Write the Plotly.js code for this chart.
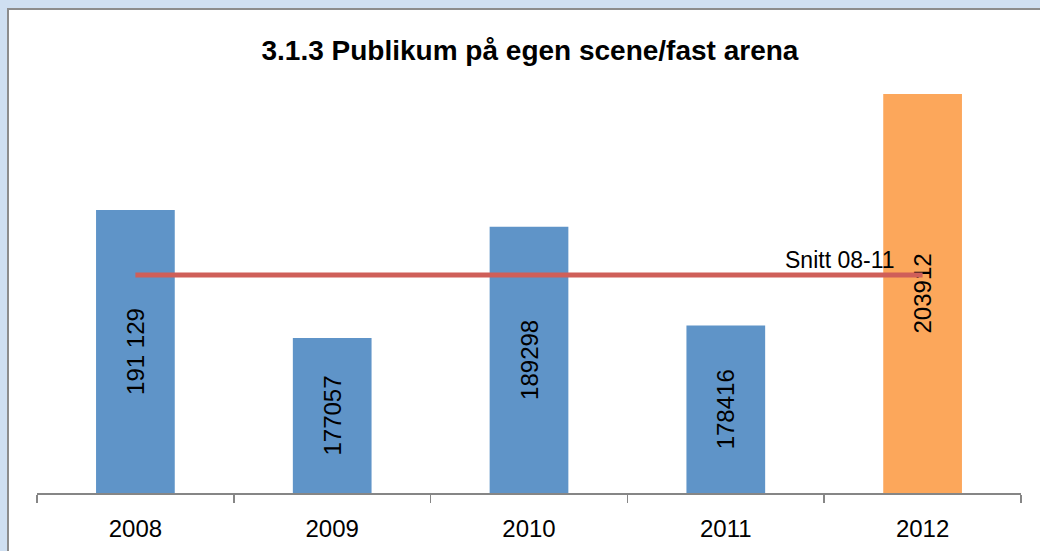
<!DOCTYPE html>
<html>
<head>
<meta charset="utf-8">
<script src="https://cdn.plot.ly/plotly-3.0.1.min.js"></script>
<style>
  html, body { margin:0; padding:0; width:1040px; height:551px; overflow:hidden; background:#cfdff1; }
  #frame { position:absolute; left:7px; top:8px; width:1100px; height:600px; background:#ffffff;
           border-left:2px solid #8c8c8c; border-top:2px solid #8c8c8c; }
  #chart { position:absolute; left:0; top:0; width:1040px; height:551px; }
</style>
</head>
<body>
<div id="frame"></div>
<div id="chart"></div>
<script>
const years = ['2008', '2009', '2010', '2011', '2012'];
const publikum = [191129, 177057, 189298, 178416, 203912];
const barLabels = ['191 129', '177057', '189298', '178416', '203912'];
const barColors = ['#5f94c8', '#5f94c8', '#5f94c8', '#5f94c8', '#fca75b'];
const snitt = [183975, 183975, 183975, 183975, 183975];
const snittLabel = 'Snitt 08-11';
const titleText = '3.1.3 Publikum på egen scene/fast arena';
const axisMin = 160000;
const axisMax = 205000;

const font = 'Liberation Sans, Arial, sans-serif';

// bars start at the axis minimum so that the inside labels centre on the visible part
const bars = {
  type: 'bar',
  x: years,
  base: axisMin,
  y: publikum.map(v => v - axisMin),
  width: 0.4,
  marker: { color: barColors },
  text: barLabels,
  textposition: 'inside',
  insidetextanchor: 'middle',
  textangle: -90,
  constraintext: 'none',
  textfont: { family: font, size: 24, color: '#000000' },
  hoverinfo: 'none',
  showlegend: false
};

const line = {
  type: 'scatter',
  mode: 'lines',
  x: years,
  y: snitt,
  line: { color: '#cf5f59', width: 5 },
  hoverinfo: 'none',
  showlegend: false
};

const layout = {
  width: 1040,
  height: 551,
  margin: { l: 37, r: 19, t: 84, b: 58, pad: 0 },
  paper_bgcolor: 'rgba(0,0,0,0)',
  plot_bgcolor: 'rgba(0,0,0,0)',
  title: {
    text: '<b>' + titleText + '</b>',
    font: { family: font, size: 28, color: '#000000' },
    x: 0.501, xanchor: 'center', xref: 'paper',
    y: 0.909, yanchor: 'middle', yref: 'container'
  },
  xaxis: {
    type: 'category',
    range: [-0.5, 4.5],
    showline: true,
    linecolor: '#868686',
    linewidth: 1.5,
    ticks: 'outside',
    tickson: 'boundaries',
    ticklen: 8,
    tickwidth: 1.5,
    tickcolor: '#868686',
    ticklabelstandoff: 14,
    showgrid: false,
    tickfont: { family: font, size: 24, color: '#000000' },
    fixedrange: true
  },
  yaxis: {
    range: [axisMin, axisMax],
    visible: false,
    showgrid: false,
    zeroline: false,
    fixedrange: true
  },
  annotations: [{
    x: years.length - 1,
    y: snitt[snitt.length - 1],
    xref: 'x', yref: 'y',
    text: snittLabel,
    showarrow: false,
    xanchor: 'right',
    yanchor: 'bottom',
    xshift: -26,
    yshift: 0,
    font: { family: font, size: 23, color: '#000000' }
  }]
};

Plotly.newPlot('chart', [bars, line], layout, { staticPlot: true, displayModeBar: false });
</script>
</body>
</html>
